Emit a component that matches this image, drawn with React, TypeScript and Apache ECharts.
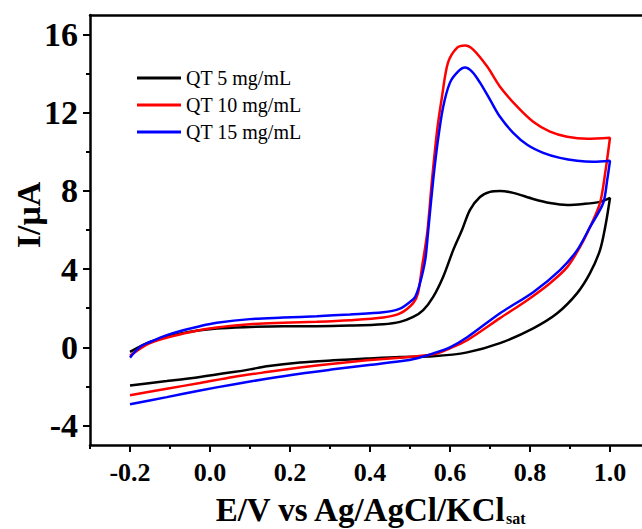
import React, { useEffect, useRef } from "react";
import * as echarts from "echarts";

// Cyclic voltammograms: [E (V), I (µA)] pairs, forward scan then reverse scan
const qt5: number[][] = [
  [-0.2, -0.24], [-0.15, 0.27], [-0.067, 0.73], [0.017, 0.96], [0.1, 1.04], [0.183, 1.08],
  [0.267, 1.08], [0.35, 1.11], [0.433, 1.18], [0.475, 1.3], [0.508, 1.55], [0.533, 1.9],
  [0.558, 2.58], [0.583, 3.61], [0.608, 4.97], [0.63, 6.0], [0.65, 7.03], [0.675, 7.69],
  [0.7, 7.95], [0.725, 8.0], [0.758, 7.9], [0.808, 7.59], [0.85, 7.38], [0.893, 7.28],
  [0.933, 7.33], [0.975, 7.44], [1.0, 7.64],
  [0.988, 6.15], [0.975, 4.97], [0.95, 3.79], [0.918, 2.77], [0.868, 1.74], [0.808, 0.97],
  [0.725, 0.21], [0.643, -0.26], [0.558, -0.46], [0.475, -0.5], [0.392, -0.58], [0.308, -0.67],
  [0.225, -0.78], [0.142, -0.97], [0.1, -1.13], [0.058, -1.27], [-0.025, -1.52], [-0.108, -1.73],
  [-0.2, -1.95],
];

const qt10: number[][] = [
  [-0.2, -0.43], [-0.15, 0.22], [-0.067, 0.7], [0.017, 1.01], [0.1, 1.18], [0.183, 1.25],
  [0.267, 1.3], [0.35, 1.38], [0.433, 1.52], [0.475, 1.73], [0.508, 2.26], [0.52, 2.77],
  [0.53, 4.1], [0.543, 5.85], [0.555, 8.56], [0.568, 11.13], [0.58, 12.82], [0.595, 14.56],
  [0.618, 15.33], [0.6375, 15.44], [0.658, 15.23], [0.693, 14.36], [0.725, 13.33], [0.768, 12.31],
  [0.808, 11.54], [0.85, 11.03], [0.893, 10.77], [0.943, 10.67], [1.0, 10.72],
  [0.988, 8.92], [0.975, 7.38], [0.95, 6.15], [0.925, 5.13], [0.893, 4.1], [0.85, 3.28],
  [0.793, 2.41], [0.725, 1.49], [0.643, 0.36], [0.6, -0.05], [0.558, -0.36], [0.475, -0.53],
  [0.392, -0.67], [0.308, -0.84], [0.225, -1.04], [0.142, -1.27], [0.058, -1.52], [-0.025, -1.83],
  [-0.108, -2.12], [-0.2, -2.46],
];

const qt15: number[][] = [
  [-0.2, -0.53], [-0.175, 0.02], [-0.15, 0.27], [-0.108, 0.62], [-0.067, 0.87], [-0.025, 1.08],
  [0.017, 1.25], [0.1, 1.44], [0.183, 1.52], [0.267, 1.59], [0.35, 1.68], [0.433, 1.79],
  [0.475, 1.98], [0.5, 2.32], [0.513, 2.58], [0.525, 3.28], [0.538, 4.46], [0.545, 5.85],
  [0.558, 8.56], [0.57, 10.62], [0.583, 12.31], [0.6, 13.54], [0.62, 14.1], [0.6375, 14.31],
  [0.655, 14.1], [0.675, 13.54], [0.7, 12.67], [0.725, 11.79], [0.758, 10.97], [0.793, 10.36],
  [0.833, 9.95], [0.875, 9.69], [0.918, 9.54], [0.958, 9.49], [1.0, 9.54],
  [0.993, 8.56], [0.983, 7.38], [0.95, 6.15], [0.918, 4.97], [0.875, 3.95], [0.808, 2.82],
  [0.725, 1.74], [0.643, 0.51], [0.6, 0.0], [0.558, -0.31], [0.518, -0.56], [0.475, -0.72],
  [0.392, -0.92], [0.308, -1.13], [0.225, -1.35], [0.142, -1.61], [0.058, -1.9], [-0.025, -2.21],
  [-0.108, -2.55], [-0.2, -2.92],
];

const seriesNames = ["QT 5 mg/mL", "QT 10 mg/mL", "QT 15 mg/mL"];
const seriesColors = ["#000000", "#ff0000", "#0000ff"];

const xMajorTicks = [-0.2, 0.0, 0.2, 0.4, 0.6, 0.8, 1.0];
const xMinorTicks = [-0.3, -0.1, 0.1, 0.3, 0.5, 0.7, 0.9];
const yMajorTicks = [-4, 0, 4, 8, 12, 16];
const yMinorTicks = [-2, 2, 6, 10, 14];

const FONT = "'Liberation Serif', 'Times New Roman', serif";

export default function App() {
  const ref = useRef<HTMLDivElement>(null);

  useEffect(() => {
    if (!ref.current) return;
    const chart = echarts.init(ref.current, undefined, { renderer: "svg" });
    const axisLine = { show: true, onZero: false, lineStyle: { color: "#000", width: 2.5 } };
    const hiddenLine = { show: false, onZero: false };
    const option: any = {
      animation: false,
      backgroundColor: "#fff",
      grid: { left: 90, right: 50, top: 15, bottom: 84, containLabel: false },
      legend: {
        orient: "vertical",
        left: 132,
        top: 63,
        itemGap: 7,
        itemWidth: 44,
        itemHeight: 3,
        icon: "rect",
        textStyle: { fontFamily: FONT, fontSize: 20, color: "#000" },
        data: seriesNames,
      },
      xAxis: [
        {
          type: "value",
          min: -0.3,
          max: 1.1,
          position: "bottom",
          axisLine,
          splitLine: { show: false },
          axisTick: { show: true, customValues: xMajorTicks, length: 7, lineStyle: { color: "#000", width: 2 } },
          axisLabel: {
            customValues: xMajorTicks,
            formatter: (v: number) => v.toFixed(1),
            fontFamily: FONT,
            fontWeight: "bold",
            fontSize: 26,
            color: "#000",
            margin: 14,
          },
        },
        {
          type: "value",
          min: -0.3,
          max: 1.1,
          position: "bottom",
          axisLine: hiddenLine,
          splitLine: { show: false },
          axisTick: { show: true, customValues: xMinorTicks, length: 4, lineStyle: { color: "#000", width: 2 } },
          axisLabel: { show: false },
        },
        {
          type: "value",
          min: -0.3,
          max: 1.1,
          position: "top",
          axisLine,
          splitLine: { show: false },
          axisTick: { show: false },
          axisLabel: { show: false },
        },
      ],
      yAxis: [
        {
          type: "value",
          min: -5,
          max: 17,
          position: "left",
          axisLine,
          splitLine: { show: false },
          axisTick: { show: true, customValues: yMajorTicks, length: 7, lineStyle: { color: "#000", width: 2 } },
          axisLabel: {
            customValues: yMajorTicks,
            fontFamily: FONT,
            fontWeight: "bold",
            fontSize: 34,
            color: "#000",
            margin: 12,
          },
        },
        {
          type: "value",
          min: -5,
          max: 17,
          position: "left",
          axisLine: hiddenLine,
          splitLine: { show: false },
          axisTick: { show: true, customValues: yMinorTicks, length: 4, lineStyle: { color: "#000", width: 2 } },
          axisLabel: { show: false },
        },
      ],
      graphic: [
        {
          type: "text",
          x: 28,
          y: 215,
          rotation: Math.PI / 2,
          style: {
            text: "I/μA",
            fontFamily: FONT,
            fontWeight: "bold",
            fontSize: 34,
            fill: "#000",
            align: "center",
            verticalAlign: "middle",
          },
        },
        {
          type: "text",
          x: 370,
          y: 509,
          style: {
            text: "{a|E/V vs Ag/AgCl/KCl}{b|sat}",
            align: "center",
            verticalAlign: "middle",
            rich: {
              a: { fontFamily: FONT, fontWeight: "bold", fontSize: 33, fill: "#000", verticalAlign: "bottom", lineHeight: 34 },
              b: { fontFamily: FONT, fontWeight: "bold", fontSize: 16, fill: "#000", verticalAlign: "bottom", lineHeight: 18 },
            },
          },
        },
      ],
      series: [qt5, qt10, qt15].map((d, i) => ({
        name: seriesNames[i],
        type: "line",
        data: d,
        xAxisIndex: 0,
        yAxisIndex: 0,
        showSymbol: false,
        smooth: 0.3,
        lineStyle: { color: seriesColors[i], width: 2.5 },
        itemStyle: { color: seriesColors[i] },
      })),
    };
    chart.setOption(option);
    return () => chart.dispose();
  }, []);

  return (
    <div
      ref={ref}
      style={{ position: "fixed", left: 0, top: 0, width: 700, height: 529, background: "#fff" }}
    />
  );
}
